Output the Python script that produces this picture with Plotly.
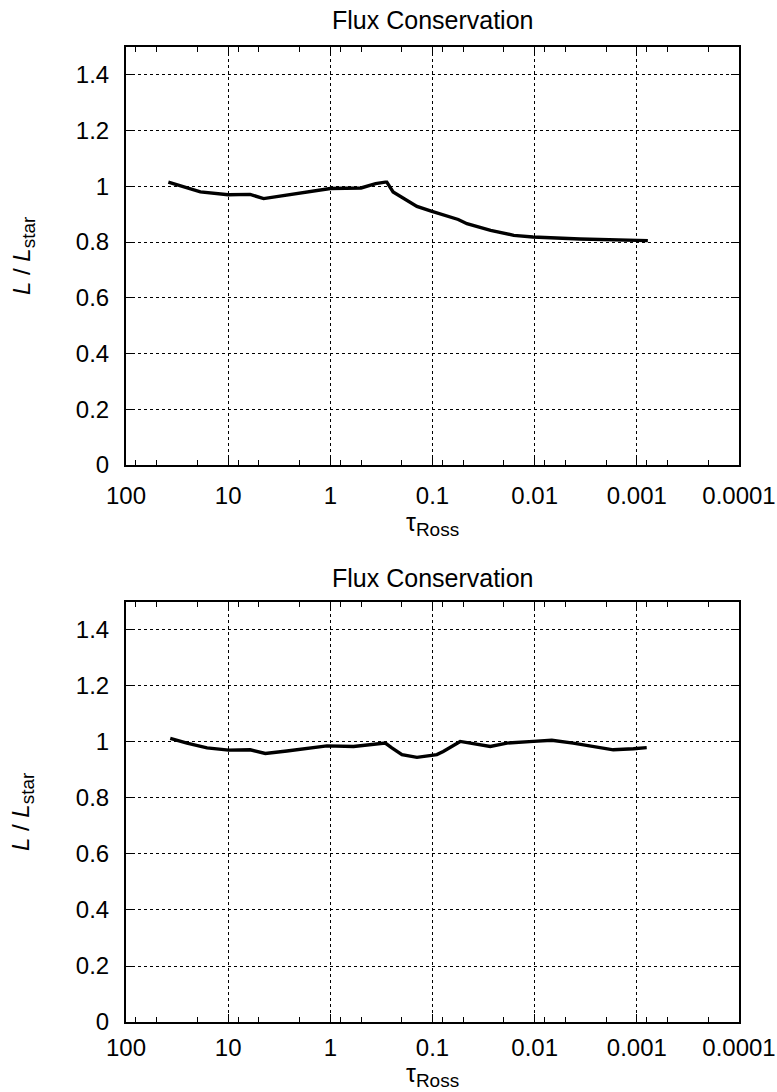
import plotly.graph_objects as go
from plotly.subplots import make_subplots

# ---- data ----
tau_top = [38.5, 18.7, 10.0, 6.1, 4.5, 1.97, 1.0, 0.5, 0.36, 0.29, 0.28, 0.243, 0.185,
           0.142, 0.103, 0.056, 0.046, 0.027, 0.016, 0.0104, 0.0036, 0.001, 0.00078]
flux_top = [1.015, 0.98, 0.97, 0.971, 0.956, 0.976, 0.992, 0.994, 1.01, 1.015, 1.015, 0.98, 0.952,
            0.928, 0.911, 0.881, 0.866, 0.842, 0.824, 0.818, 0.811, 0.806, 0.805]

tau_bot = [36.9, 25.3, 16.1, 9.9, 6.08, 4.33, 2.66, 1.83, 1.08, 0.593, 0.44, 0.29, 0.25, 0.199,
           0.142, 0.0906, 0.0785, 0.0536, 0.0272, 0.0187, 0.0103, 0.0068, 0.0042, 0.00266,
           0.0017, 0.00108, 0.0008]
flux_bot = [1.013, 0.996, 0.979, 0.971, 0.972, 0.959, 0.968, 0.975, 0.986, 0.984, 0.99, 0.996,
            0.979, 0.955, 0.945, 0.955, 0.966, 1.002, 0.984, 0.996, 1.002, 1.006, 0.996, 0.984,
            0.972, 0.976, 0.98]

x_tickvals = [100, 10, 1, 0.1, 0.01, 0.001, 0.0001]
x_ticktext = ["100", "10", "1", "0.1", "0.01", "0.001", "0.0001"]
y_tickvals = [0, 0.2, 0.4, 0.6, 0.8, 1.0, 1.2, 1.4]
y_ticktext = ["0", "0.2", "0.4", "0.6", "0.8", "1", "1.2", "1.4"]
title_text = "Flux Conservation"
x_title = "τ<sub><span style='font-size:19px'>Ross</span></sub>"
y_title = "<i>L</i> / <i>L</i><sub><span style='font-size:19px'>star</span></sub>"

FONT = "Liberation Sans, Arial, Helvetica, sans-serif"

minor_vals = [m * 10 ** e for e in range(-4, 2) for m in (2, 5, 8)]

fig = make_subplots(rows=2, cols=1)
fig.add_trace(go.Scatter(x=tau_top, y=flux_top, mode="lines",
                         line=dict(color="black", width=3.4), showlegend=False), row=1, col=1)
fig.add_trace(go.Scatter(x=tau_bot, y=flux_bot, mode="lines",
                         line=dict(color="black", width=3.4), showlegend=False), row=2, col=1)

xax = dict(type="log", range=[2, -4], tickmode="array", tickvals=x_tickvals, ticktext=x_ticktext,
           ticks="inside", ticklen=8, tickwidth=1.3, tickcolor="black",
           showline=True, linecolor="black", linewidth=2, mirror="ticks",
           showgrid=True, gridcolor="black", griddash="dot", gridwidth=1,
           zeroline=False, ticklabelstandoff=8, automargin=False,
           minor=dict(tickmode="array", tickvals=minor_vals, ticks="inside", ticklen=5,
                      tickwidth=1.2, tickcolor="black", showgrid=False),
           tickfont=dict(family=FONT, size=24, color="black"))
yax = dict(range=[0, 1.5], tickmode="array", tickvals=y_tickvals, ticktext=y_ticktext,
           ticks="inside", ticklen=8, tickwidth=1.3, tickcolor="black",
           showline=True, linecolor="black", linewidth=2, mirror="ticks",
           showgrid=True, gridcolor="black", griddash="dot", gridwidth=1,
           zeroline=False, ticklabelstandoff=10, automargin=False,
           tickfont=dict(family=FONT, size=24, color="black"))

xax2 = dict(xax, ticklabelstandoff=3)
fig.update_layout(xaxis=xax, xaxis2=xax2, yaxis=yax, yaxis2=yax)
fig.update_layout(yaxis=dict(domain=[0.5713, 1.0]), yaxis2=dict(domain=[0.0, 0.4308]))

ann = []
for ty, xy, yy in [(1.0277, 0.5108, 0.7856), (0.4554, -0.0545, 0.2154)]:
    ann.append(dict(text=title_text, xref="paper", yref="paper", x=0.5, y=ty,
                    xanchor="center", yanchor="middle",
                    showarrow=False, font=dict(family=FONT, size=25, color="black")))
    ann.append(dict(text=x_title, xref="paper", yref="paper", x=0.5, y=xy,
                    xanchor="center", yanchor="middle",
                    showarrow=False, font=dict(family=FONT, size=25, color="black")))
    ann.append(dict(text=y_title, xref="paper", yref="paper", x=-0.168, y=yy, textangle=-90,
                    xanchor="center", yanchor="middle",
                    showarrow=False, font=dict(family=FONT, size=24, color="black")))

fig.update_layout(width=777, height=1092, margin=dict(l=126, r=38, t=47, b=70),
                  paper_bgcolor="white", plot_bgcolor="white", annotations=ann,
                  font=dict(family=FONT, color="black"))

fig.write_html("out.html")
